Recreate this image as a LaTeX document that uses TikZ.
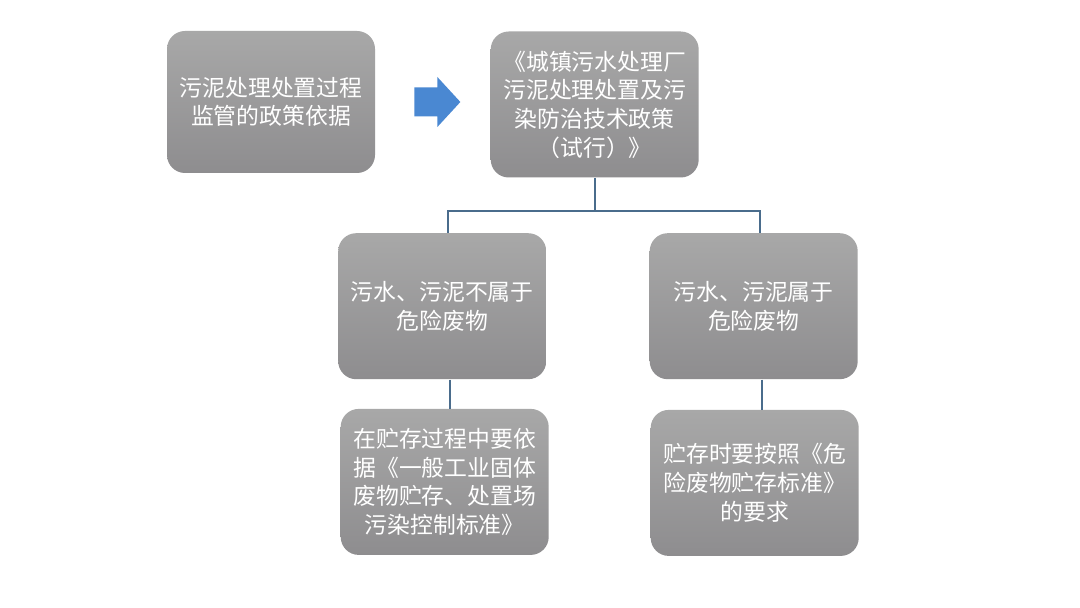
\documentclass[tikz,border=0pt]{standalone}
\usepackage{fontspec}
\newfontfamily\cjk{Noto Sans CJK SC}
\usepackage{xcolor}
\usepackage{tikz}
\usetikzlibrary{arrows.meta, positioning, calc}

\definecolor{boxtop}{RGB}{168,168,168}
\definecolor{boxbot}{RGB}{142,141,143}
\definecolor{linkblue}{RGB}{74,108,140}
\definecolor{arrowblue}{RGB}{74,136,210}

\begin{document}
\begin{tikzpicture}[>=Stealth, node distance=1.1cm and 2.3cm,
    box/.style={rounded corners=0.36cm, top color=boxtop, bottom color=boxbot, minimum width=4.16cm, minimum height=2.92cm, inner sep=2pt, text=white, font=\cjk\fontsize{13}{16.3}\selectfont, align=center},
    link/.style={draw=linkblue, line width=1.1pt},
]
\useasboundingbox[fill=white] (0,0) rectangle (21.6,-12.16);
\node[box, minimum height=2.84cm] (basis) at (5.42,-2.04) {污泥处理处置过程\\监管的政策依据};
\node[box, right=2.3cm of basis, yshift=-0.05cm] (policy) {《城镇污水处理厂\\污泥处理处置及污\\染防治技术政策\\（试行）》};
% block arrow between the two top boxes
\coordinate (arr) at ($(basis.east)+(0.78,0)$);
\fill[arrowblue] ($(arr)+(0,0.29)$) -- ++(0.46,0) -- ++(0,0.21) -- ++(0.46,-0.5) -- ++(-0.46,-0.5) -- ++(0,0.21) -- ++(-0.46,0) -- cycle;
\node[box, below=1.1cm of policy, xshift=-3.05cm] (nothaz) {污水、污泥不属于\\危险废物};
\node[box, below=1.1cm of policy, xshift=3.18cm] (haz) {污水、污泥属于\\危险废物};
\node[box, below=0.58cm of nothaz, xshift=0.05cm] (store1) {在贮存过程中要依\\据《一般工业固体\\废物贮存、处置场\\污染控制标准》};
\node[box, below=0.6cm of haz, xshift=0.02cm] (store2) {贮存时要按照《危\\险废物贮存标准》\\的要求};
\coordinate (bus) at ($(policy.south)+(0,-0.66)$);
\coordinate (drop1) at ($(nothaz.south)+(0.15,0)$);
\coordinate (drop2) at ($(haz.south)+(0.17,0)$);
\draw[link] (policy.south) -- (bus);
\draw[link] ($(nothaz.north)+(0.12,0)$) |- (bus) -| ($(haz.north)+(0.13,0)$);
\draw[link] (drop1) -- (drop1 |- store1.north);
\draw[link] (drop2) -- (drop2 |- store2.north);
\end{tikzpicture}
\end{document}
